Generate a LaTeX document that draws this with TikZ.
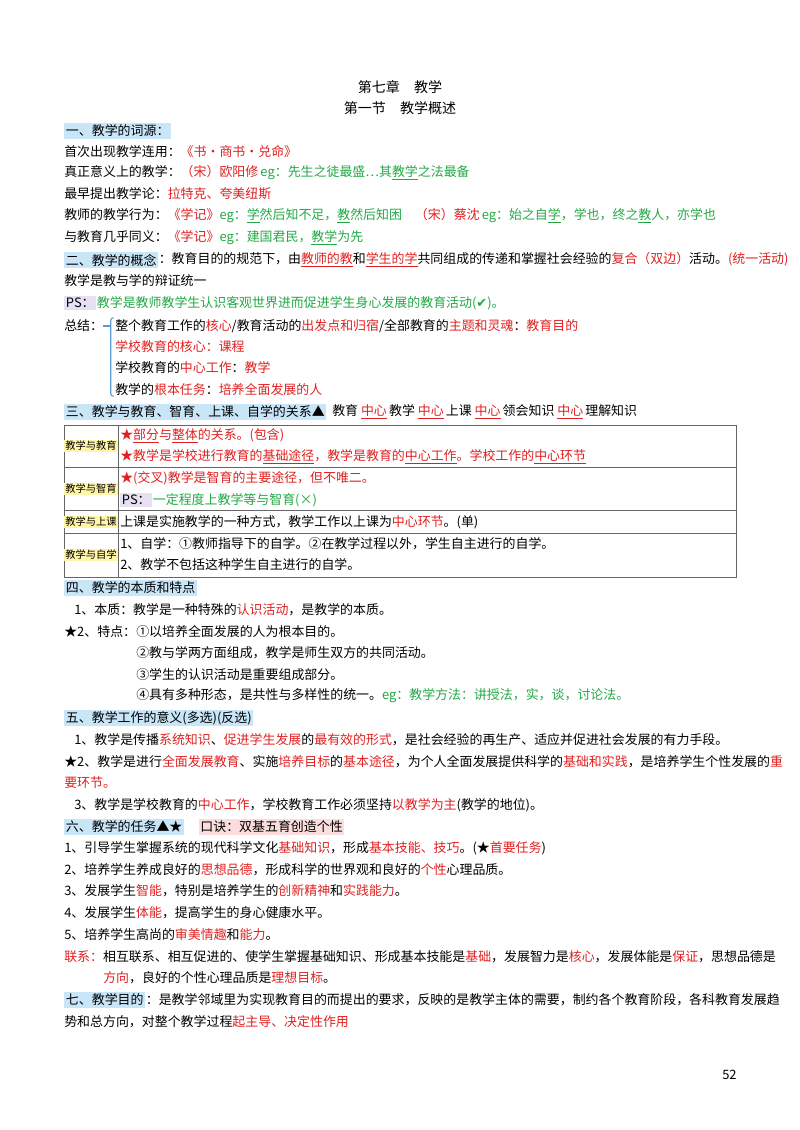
\documentclass[tikz,border=0pt]{standalone}
\usepackage{fontspec}
\setmainfont{Noto Sans CJK SC}
\newfontfamily\symfont{DejaVu Sans}
\usetikzlibrary{positioning}
\definecolor{hired}{HTML}{E02020}
\definecolor{higreen}{HTML}{22A845}
\definecolor{secblue}{HTML}{C9E5F8}
\definecolor{labyellow}{HTML}{FFF6A8}
\definecolor{pspurple}{HTML}{E6E0F2}
\definecolor{kjpink}{HTML}{FBDDDD}
\definecolor{brblue}{HTML}{5B9BD5}
\def\R#1{\textcolor{hired}{#1}}
\def\G#1{\textcolor{higreen}{#1}}
\def\U#1{\underline{#1}}

\begin{document}
\begin{tikzpicture}[x=0.025cm, y=-0.025cm,
    txt/.style={anchor=west, inner sep=0pt, font=\fontsize{9.2pt}{11pt}\selectfont},
    title/.style={inner sep=0pt, font=\fontsize{10pt}{12pt}\selectfont},
    sec/.style={txt, fill=secblue, inner sep=1.2pt},
    lab/.style={inner sep=1pt, fill=labyellow, font=\fontsize{7.3pt}{9pt}\selectfont},
    ps/.style={txt, fill=pspurple, inner sep=1.2pt},
    grid/.style={draw=black!60, line width=0.5pt},
]
\useasboundingbox (0,0) rectangle (800,1130);

% Titles
\node[title] (t1) at (400,87) {第七章\quad 教学};
\node[title] (t2) at (400,108) {第一节\quad 教学概述};

% Section one
\node[sec] (s1) at (64,131) {一、教学的词源：};
\node[txt] (a1) at (64,152) {首次出现教学连用：\R{《书•商书•兑命》}};
\node[txt] (a2) at (64,173) {真正意义上的教学：\R{（宋）欧阳修}\G{\,eg：先生之徒最盛…其\U{教学}之法最备}};
\node[txt] (a3) at (64,194) {最早提出教学论：\R{拉特克、夸美纽斯}};
\node[txt] (a4) at (64,216) {教师的教学行为：\R{《学记》}\G{eg：\U{学}然后知不足，\U{教}然后知困}\quad\R{（宋）蔡沈}\G{\,eg：始之自\U{学}，学也，终之\U{教}人，亦学也}};
\node[txt] (a5) at (64,238) {与教育几乎同义：\R{《学记》}\G{eg：建国君民，\U{教学}为先}};

% Section two
\node[sec] (s2) at (64,260) {二、教学的概念};
\node[txt, right=0pt of s2] (b1) {：教育目的的规范下，由\R{\U{教师的教}}和\R{\U{学生的学}}共同组成的传递和掌握社会经验的\R{复合（双边）}活动。\R{(统一活动)}};
\node[txt] (b2) at (64,281) {教学是教与学的辩证统一};
\node[ps] (p1) at (64,303) {PS：};
\node[txt, right=0pt of p1] (b3) {\G{教学是教师教学生认识客观世界进而促进学生身心发展的教育活动({\symfont ✔})。}};
\node[txt] (z0) at (64,326) {总结：};
\node[txt] (z1) at (115,326) {整个教育工作的\R{核心}/教育活动的\R{出发点和归宿}/全部教育的\R{主题和灵魂}：\R{教育目的}};
\node[txt] (z2) at (115,347) {\R{学校教育的核心：课程}};
\node[txt] (z3) at (115,368) {学校教育的\R{中心工作}：\R{教学}};
\node[txt] (z4) at (115,390) {教学的\R{根本任务}：\R{培养全面发展的人}};
\draw[brblue, line width=0.8pt] (z0.east) -- ([xshift=-3pt]z1.west);
\draw[brblue, line width=0.8pt, rounded corners=2pt] ([xshift=-1pt,yshift=1pt]z1.north west) -| ([xshift=-3pt]z1.west) |- ([xshift=-1pt]z4.south west);

% Section three
\node[sec] (s3) at (64,412) {三、教学与教育、智育、上课、自学的关系▲};
\node[txt] (c0) at (332,412) {教育\ \R{\U{中心}}\,教学\ \R{\U{中心}}\,上课\ \R{\U{中心}}\,领会知识\ \R{\U{中心}}\,理解知识};

% Table
\draw[grid] (64,425) rectangle (736,577);
\foreach \yy in {467,510,533} \draw[grid] (64,\yy) -- (736,\yy);
\draw[grid] (118,425) -- (118,577);
\node[lab] (r1) at (91,446) {教学与教育};
\node[lab] (r2) at (91,489) {教学与智育};
\node[lab] (r3) at (91,522) {教学与上课};
\node[lab] (r4) at (91,555) {教学与自学};
\node[txt] (c1) at (120,436) {\R{★\U{部分}与\U{整体}的关系。(包含)}};
\node[txt] (c2) at (120,457) {\R{★教学是学校进行教育的\U{基础途径}，教学是教育的\U{中心工作}。学校工作的\U{中心环节}}};
\node[txt] (c3) at (120,478) {\R{★(交叉)教学是智育的主要途径，但不唯二。}};
\node[ps] (p2) at (120,500) {PS：};
\node[txt, right=0pt of p2] (c4) {\G{一定程度上教学等与智育(×)}};
\node[txt] (c5) at (120,522) {上课是实施教学的一种方式，教学工作以上课为\R{中心环节}。(单)};
\node[txt] (c6) at (120,544) {1、自学：①教师指导下的自学。②在教学过程以外，学生自主进行的自学。};
\node[txt] (c7) at (120,565) {2、教学不包括这种学生自主进行的自学。};

% Section four
\node[sec] (s4) at (64,588) {四、教学的本质和特点};
\node[txt] (d1) at (74,610) {1、本质：教学是一种特殊的\R{认识活动}，是教学的本质。};
\node[txt] (d2) at (64,632) {★2、特点：};
\node[txt] (d3) at (136,632) {①以培养全面发展的人为根本目的。};
\node[txt] (d4) at (136,653) {②教与学两方面组成，教学是师生双方的共同活动。};
\node[txt] (d5) at (136,675) {③学生的认识活动是重要组成部分。};
\node[txt] (d6) at (136,696) {④具有多种形态，是共性与多样性的统一。\G{eg：教学方法：讲授法，实，谈，讨论法。}};

% Section five
\node[sec] (s5) at (64,718) {五、教学工作的意义(多选)(反选)};
\node[txt] (e1) at (74,740) {1、教学是传播\R{系统知识}、\R{促进学生发展}的\R{最有效的形式}，是社会经验的再生产、适应并促进社会发展的有力手段。};
\node[txt] (e2) at (64,762) {★2、教学是进行\R{全面发展教育}、实施\R{培养目标}的\R{基本途径}，为个人全面发展提供科学的\R{基础和实践}，是培养学生个性发展的\R{重}};
\node[txt] (e3) at (64,783) {\R{要环节。}};
\node[txt] (e4) at (74,805) {3、教学是学校教育的\R{中心工作}，学校教育工作必须坚持\R{以教学为主}(教学的地位)。};

% Section six
\node[sec] (s6) at (64,827) {六、教学的任务▲★};
\node[txt, fill=kjpink, inner sep=1.2pt, right=10pt of s6] (kj) {口诀：双基五育创造个性};
\node[txt] (f1) at (64,848) {1、引导学生掌握系统的现代科学文化\R{基础知识}，形成\R{基本技能、技巧}。(★\R{首要任务})};
\node[txt] (f2) at (64,870) {2、培养学生养成良好的\R{思想品德}，形成科学的世界观和良好的\R{个性}心理品质。};
\node[txt] (f3) at (64,891) {3、发展学生\R{智能}，特别是培养学生的\R{创新精神}和\R{实践能力}。};
\node[txt] (f4) at (64,913) {4、发展学生\R{体能}，提高学生的身心健康水平。};
\node[txt] (f5) at (64,935) {5、培养学生高尚的\R{审美情趣}和\R{能力}。};
\node[txt] (f6) at (64,957) {\R{联系：}相互联系、相互促进的、使学生掌握基础知识、形成基本技能是\R{基础}，发展智力是\R{核心}，发展体能是\R{保证}，思想品德是};
\node[txt] (f7) at (103,978) {\R{方向}，良好的个性心理品质是\R{理想目标}。};

% Section seven
\node[sec] (s7) at (64,1000) {七、教学目的};
\node[txt, right=0pt of s7] (g1) {：是教学邻域里为实现教育目的而提出的要求，反映的是教学主体的需要，制约各个教育阶段，各科教育发展趋};
\node[txt] (g2) at (64,1022) {势和总方向，对整个教学过程\R{起主导、决定性作用}};

% Page number
\node[txt] (pg) at (722,1075) {52};
\end{tikzpicture}
\end{document}
